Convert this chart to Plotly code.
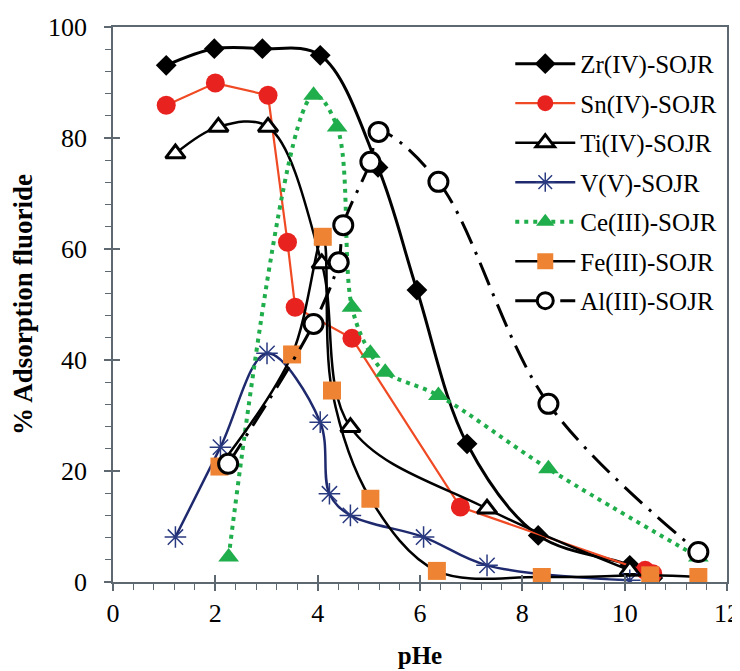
import plotly.graph_objects as go

# ---- data ----
zr_x = [1.04, 1.98, 2.92, 4.05, 5.18, 5.94, 6.92, 8.31, 10.1, 10.55]
zr_y = [93.1, 96.1, 96.1, 94.9, 74.7, 52.6, 24.9, 8.4, 3.0, 0.7]

sn_x = [1.04, 2.0, 3.03, 3.41, 3.56, 4.67, 6.79, 10.4, 10.55]
sn_y = [85.9, 89.9, 87.7, 61.2, 49.5, 43.9, 13.5, 2.1, 1.5]

ti_x = [1.22, 2.06, 3.03, 4.08, 4.64, 7.31, 10.1]
ti_y = [77.2, 82.0, 82.0, 57.4, 27.9, 13.2, 2.1]

v_x = [1.22, 2.1, 3.01, 4.05, 4.23, 4.64, 6.07, 7.31, 10.1]
v_y = [8.1, 24.3, 41.2, 28.8, 15.9, 12.0, 8.1, 3.0, 0.3]

ce_x = [2.26, 3.92, 4.38, 4.67, 5.03, 5.32, 6.36, 8.51, 11.44]
ce_y = [4.5, 87.7, 82.0, 49.5, 41.2, 37.8, 33.6, 20.4, 4.5]

fe_x = [2.08, 3.5, 4.1, 4.28, 5.03, 6.33, 8.38, 10.5, 11.44]
fe_y = [20.8, 41.0, 62.2, 34.5, 15.0, 2.0, 0.9, 1.2, 0.9]

al_x = [2.25, 3.92, 4.41, 4.5, 5.03, 5.19, 6.36, 8.51, 11.44]
al_y = [21.3, 46.5, 57.6, 64.3, 75.7, 81.1, 72.1, 32.1, 5.4]

x_ticks = [0, 2, 4, 6, 8, 10, 12]
y_ticks = [0, 20, 40, 60, 80, 100]

FONT = "Liberation Serif, Times New Roman, serif"
AXC = "#5d6870"

fig = go.Figure()

def add(name, xs, ys, color, lw, dash, shape, symbol, msize, mcolor, mline_color, mline_w, group):
    fig.add_trace(go.Scatter(
        x=xs, y=ys, name=name, mode="lines+markers",
        line=dict(color=color, width=lw, dash=dash, shape=shape, smoothing=1.0),
        marker=dict(symbol=symbol, size=msize, color=mcolor,
                    line=dict(color=mline_color, width=mline_w)),
        legendgroup=group,
    ))

add("Zr(IV)-SOJR", zr_x, zr_y, "black", 3, "solid", "spline", "diamond", 16, "black", "black", 0, "g1")
add("Sn(IV)-SOJR", sn_x, sn_y, "#f04a24", 2.2, "solid", "linear", "circle", 19, "#e8231f", "#e8231f", 0, "g2")
add("Ti(IV)-SOJR", ti_x, ti_y, "black", 2.5, "solid", "spline", "triangle-up", 17, "white", "black", 3, "g3")
add("V(V)-SOJR", v_x, v_y, "#1f2a6e", 2.5, "solid", "spline", "asterisk-open", 18, "#2a3a80", "#2a3a80", 1.5, "g4")
add("Ce(III)-SOJR", ce_x, ce_y, "#1fae4b", 4, "4px,5px", "spline", "triangle-up", 18, "#1fae4b", "#1fae4b", 0, "g5")
add("Fe(III)-SOJR", fe_x, fe_y, "black", 2.5, "solid", "spline", "square", 18, "#ee8433", "#ee8433", 0, "g6")
add("Al(III)-SOJR", al_x, al_y, "black", 3, "24px,9px,3px,9px", "spline", "circle", 19, "white", "black", 3, "g7")

# invisible helper trace on overlay axes (for ticks crossing the axis lines)
fig.add_trace(go.Scatter(x=[0], y=[0], xaxis="x2", yaxis="y2", mode="markers",
                         marker=dict(opacity=0), showlegend=False, hoverinfo="skip"))

# the page body adds an 8px offset, so the figure is 8px smaller than the window
fig.update_layout(
    width=732, height=663,
    margin=dict(l=105, r=13, t=19, b=89, autoexpand=False),
    paper_bgcolor="white", plot_bgcolor="white",
    font=dict(family=FONT, color="black", size=22),
    showlegend=True,
    legend=dict(x=0.647, y=0.975, xanchor="left", yanchor="top",
                bgcolor="rgba(0,0,0,0)", borderwidth=0,
                font=dict(family=FONT, size=25, color="black"),
                traceorder="grouped", tracegroupgap=4, itemwidth=60),
    xaxis=dict(range=[0, 12], tickvals=x_ticks, ticktext=[str(v) for v in x_ticks],
               showgrid=False, zeroline=False, showline=True, linecolor=AXC, linewidth=1.5,
               mirror=True, ticks="outside", ticklen=7, tickwidth=1.5, tickcolor=AXC,
               minor=dict(ticks="outside", ticklen=6, tickwidth=1.2, tickcolor=AXC, dtick=0.4, tick0=0),
               tickfont=dict(family=FONT, size=26, color="black"), ticklabelstandoff=0,
               automargin=False,
               title=dict(text="<b>pHe</b>", font=dict(family=FONT, size=25), standoff=20)),
    yaxis=dict(range=[0, 100], tickvals=y_ticks, ticktext=[str(v) for v in y_ticks],
               showgrid=False, zeroline=False, showline=True, linecolor=AXC, linewidth=1.5,
               mirror=True, ticks="outside", ticklen=7, tickwidth=1.5, tickcolor=AXC,
               minor=dict(ticks="outside", ticklen=6, tickwidth=1.2, tickcolor=AXC, dtick=4, tick0=0),
               tickfont=dict(family=FONT, size=26, color="black"), ticklabelstandoff=12,
               automargin=False,
               title=dict(text="<b>% Adsorption fluoride</b>", font=dict(family=FONT, size=27), standoff=11)),
    xaxis2=dict(overlaying="x", anchor="y", side="bottom", range=[0, 12], tickvals=x_ticks,
                showticklabels=False, showgrid=False, zeroline=False, showline=False,
                ticks="inside", ticklen=7, tickwidth=1.5, tickcolor=AXC, automargin=False),
    yaxis2=dict(overlaying="y", anchor="x", side="left", range=[0, 100], tickvals=y_ticks,
                showticklabels=False, showgrid=False, zeroline=False, showline=False,
                ticks="inside", ticklen=7, tickwidth=1.5, tickcolor=AXC, automargin=False),
)

fig.write_html("out.html")
